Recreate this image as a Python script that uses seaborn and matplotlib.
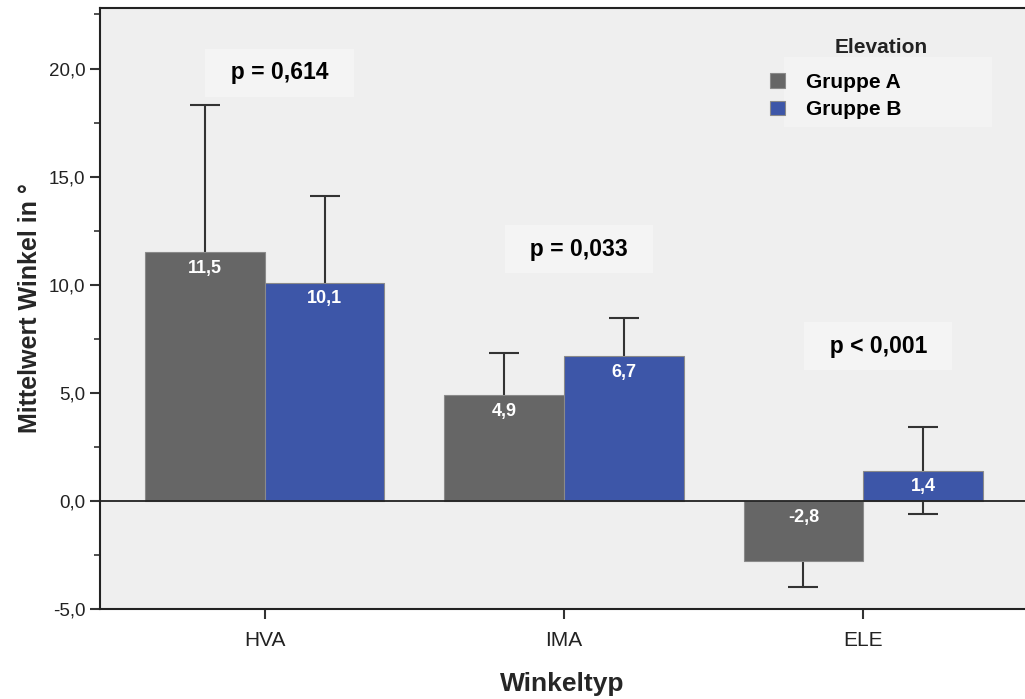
import pandas as pd
import numpy as np
import matplotlib
matplotlib.use("Agg")
import matplotlib.pyplot as plt
from matplotlib.patches import Rectangle
import seaborn as sns

# Data
winkeltyp = ["HVA", "IMA", "ELE"]
gruppen = ["Gruppe A", "Gruppe B"]
mean_a = [11.5, 4.9, -2.8]
mean_b = [10.1, 6.7, 1.4]
err_a = [6.8, 1.95, 1.2]
err_b = [4.0, 1.75, 2.0]
p_labels = ["p = 0,614", "p = 0,033", "p < 0,001"]
p_heights = [19.8, 11.65, 7.15]

colors = {"Gruppe A": "#666666", "Gruppe B": "#3d56a8"}

df = pd.DataFrame({
    "Winkeltyp": winkeltyp * 2,
    "Elevation": [gruppen[0]] * 3 + [gruppen[1]] * 3,
    "Mittelwert": mean_a + mean_b,
    "Fehler": err_a + err_b,
})

sns.set_theme(style="ticks")
plt.rcParams["font.family"] = ["Liberation Sans", "DejaVu Sans"]

fig = plt.figure(figsize=(10.25, 6.99), dpi=100)
ax = fig.add_axes([0.0976, 0.1288, 0.9024, 0.8598])
ax.set_facecolor("#efefef")

sns.barplot(data=df, x="Winkeltyp", y="Mittelwert", hue="Elevation",
            order=winkeltyp, hue_order=gruppen, palette=colors,
            errorbar=None, width=0.8, saturation=1,
            edgecolor="#8a8a8a", linewidth=0.8, zorder=3, ax=ax)

# error bars drawn behind the bars (SPSS style)
patches = [p for p in ax.patches if p.get_width() > 0 and p.get_height() != 0]
for i, g in enumerate(gruppen):
    sub = df[df["Elevation"] == g].set_index("Winkeltyp").loc[winkeltyp]
    for j, (m, e) in enumerate(zip(sub["Mittelwert"], sub["Fehler"])):
        bar = patches[i * 3 + j]
        xc = bar.get_x() + bar.get_width() / 2
        ax.errorbar(xc, m, yerr=e, color="#333333", elinewidth=1.5,
                    capsize=11, capthick=1.5, zorder=2)
        # value label inside the bar, near its upper edge
        top = m if m > 0 else 0
        ax.text(xc, top - 0.75, f"{m:.1f}".replace(".", ","),
                ha="center", va="center", color="white",
                fontsize=13, fontweight="bold", zorder=5)

ax.axhline(0, color="#222222", linewidth=1.3, zorder=4)

# p-value annotations
for k, (t, h) in enumerate(zip(p_labels, p_heights)):
    ax.text(k + 0.05, h, "  " + t + "  ", ha="center", va="center", fontsize=16.5,
            fontweight="bold", color="black", zorder=6,
            bbox=dict(boxstyle="square,pad=0.55", facecolor="#f4f4f4",
                      edgecolor="none"))

ax.set_ylim(-5, 22.8)
ax.set_xlim(-0.55, 2.54)
ax.set_yticks(np.arange(-5, 20.1, 5))
ax.set_yticklabels([f"{v:.1f}".replace(".", ",") for v in np.arange(-5, 20.1, 5)])
ax.set_yticks(np.arange(-2.5, 22.6, 5), minor=True)
ax.tick_params(axis="y", which="major", length=7, width=1.5, labelsize=13.5,
               labelcolor="#222222", color="#333333")
ax.tick_params(axis="y", which="minor", length=4, width=1.2, color="#333333")
ax.tick_params(axis="x", length=7, width=1.5, labelsize=15,
               labelcolor="#222222", color="#333333", pad=9)

for s in ["left", "top", "bottom"]:
    ax.spines[s].set_color("#222222")
    ax.spines[s].set_linewidth(1.5)
ax.spines["right"].set_visible(False)

ax.set_xlabel("Winkeltyp", fontsize=19, fontweight="bold", labelpad=16)
ax.set_ylabel("Mittelwert Winkel in °", fontsize=18, fontweight="bold", labelpad=5)

# legend: lighter panel behind the labels, title placed separately
ax.add_patch(Rectangle((0.739, 0.802), 0.225, 0.116, transform=ax.transAxes,
                       facecolor="#f3f3f3", edgecolor="none", zorder=1))
ax.text(0.845, 0.934, "Elevation", transform=ax.transAxes, ha="center",
        va="center", fontsize=15, fontweight="bold", color="#222222", zorder=6)
leg = ax.legend(loc="upper left", bbox_to_anchor=(0.724, 0.892),
                frameon=False, fontsize=15,
                handlelength=0.72, handleheight=0.72, labelspacing=0.4,
                handletextpad=1.0, borderpad=0, borderaxespad=0)
for t in leg.get_texts():
    t.set_fontweight("bold")
    t.set_color("black")

fig.savefig("out.png", dpi=100)
